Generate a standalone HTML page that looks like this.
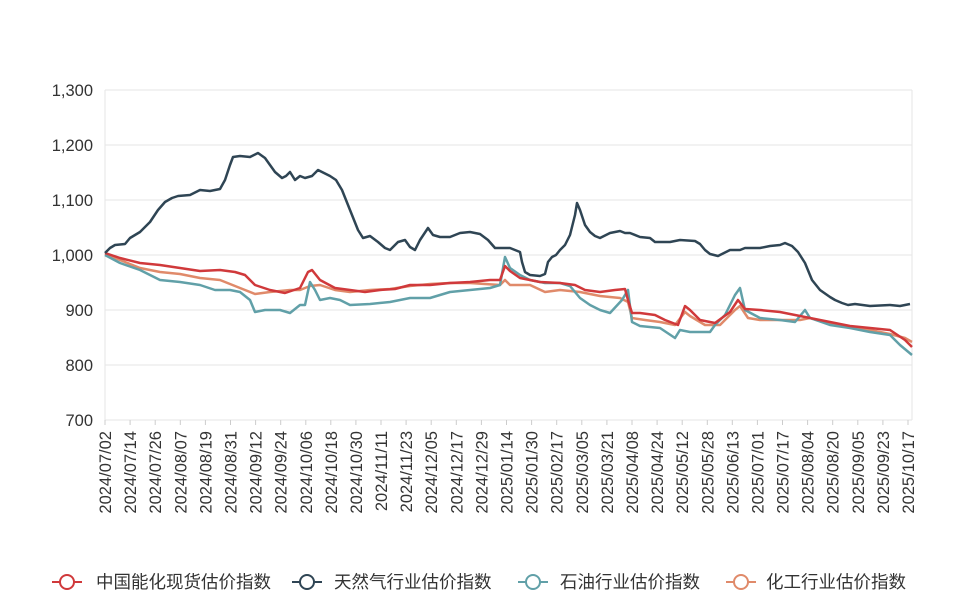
<!DOCTYPE html>
<html><head><meta charset="utf-8"><style>
body{margin:0;background:#fff;}
svg{display:block;font-family:"Liberation Sans","Noto Sans CJK SC",sans-serif;}
</style></head><body>
<svg width="960" height="600" viewBox="0 0 960 600">
<g stroke="#e6e6e6" stroke-width="1">
<line x1="105" y1="90" x2="912" y2="90"/><line x1="105" y1="145" x2="912" y2="145"/>
<line x1="105" y1="200" x2="912" y2="200"/><line x1="105" y1="255" x2="912" y2="255"/>
<line x1="105" y1="310" x2="912" y2="310"/><line x1="105" y1="365" x2="912" y2="365"/>
<line x1="105" y1="420" x2="912" y2="420"/>
<line x1="105" y1="90" x2="105" y2="420"/><line x1="912" y1="90" x2="912" y2="420"/>
</g>
<g font-size="16.5" fill="#333" text-anchor="end">
<text x="93" y="96">1,300</text><text x="93" y="151">1,200</text><text x="93" y="206">1,100</text>
<text x="93" y="261">1,000</text><text x="93" y="316">900</text><text x="93" y="371">800</text><text x="93" y="426">700</text>
</g>
<g stroke="#ccc">
<line x1="105" y1="420" x2="105" y2="425"/><line x1="130.1" y1="420" x2="130.1" y2="425"/><line x1="155.2" y1="420" x2="155.2" y2="425"/><line x1="180.3" y1="420" x2="180.3" y2="425"/><line x1="205.4" y1="420" x2="205.4" y2="425"/><line x1="230.5" y1="420" x2="230.5" y2="425"/><line x1="255.6" y1="420" x2="255.6" y2="425"/><line x1="280.7" y1="420" x2="280.7" y2="425"/><line x1="305.8" y1="420" x2="305.8" y2="425"/><line x1="330.8" y1="420" x2="330.8" y2="425"/><line x1="355.9" y1="420" x2="355.9" y2="425"/><line x1="381" y1="420" x2="381" y2="425"/><line x1="406.1" y1="420" x2="406.1" y2="425"/><line x1="431.2" y1="420" x2="431.2" y2="425"/><line x1="456.3" y1="420" x2="456.3" y2="425"/><line x1="481.4" y1="420" x2="481.4" y2="425"/><line x1="506.5" y1="420" x2="506.5" y2="425"/><line x1="531.6" y1="420" x2="531.6" y2="425"/><line x1="556.7" y1="420" x2="556.7" y2="425"/><line x1="581.8" y1="420" x2="581.8" y2="425"/><line x1="606.9" y1="420" x2="606.9" y2="425"/><line x1="632" y1="420" x2="632" y2="425"/><line x1="657.1" y1="420" x2="657.1" y2="425"/><line x1="682.2" y1="420" x2="682.2" y2="425"/><line x1="707.3" y1="420" x2="707.3" y2="425"/><line x1="732.3" y1="420" x2="732.3" y2="425"/><line x1="757.4" y1="420" x2="757.4" y2="425"/><line x1="782.5" y1="420" x2="782.5" y2="425"/><line x1="807.6" y1="420" x2="807.6" y2="425"/><line x1="832.7" y1="420" x2="832.7" y2="425"/><line x1="857.8" y1="420" x2="857.8" y2="425"/><line x1="882.9" y1="420" x2="882.9" y2="425"/><line x1="908" y1="420" x2="908" y2="425"/>
</g>
<g font-size="16.5" fill="#333" text-anchor="end">
<text transform="translate(111,431) rotate(-90)">2024/07/02</text>
<text transform="translate(136.1,431) rotate(-90)">2024/07/14</text>
<text transform="translate(161.2,431) rotate(-90)">2024/07/26</text>
<text transform="translate(186.3,431) rotate(-90)">2024/08/07</text>
<text transform="translate(211.4,431) rotate(-90)">2024/08/19</text>
<text transform="translate(236.5,431) rotate(-90)">2024/08/31</text>
<text transform="translate(261.6,431) rotate(-90)">2024/09/12</text>
<text transform="translate(286.7,431) rotate(-90)">2024/09/24</text>
<text transform="translate(311.8,431) rotate(-90)">2024/10/06</text>
<text transform="translate(336.8,431) rotate(-90)">2024/10/18</text>
<text transform="translate(361.9,431) rotate(-90)">2024/10/30</text>
<text transform="translate(387,431) rotate(-90)">2024/11/11</text>
<text transform="translate(412.1,431) rotate(-90)">2024/11/23</text>
<text transform="translate(437.2,431) rotate(-90)">2024/12/05</text>
<text transform="translate(462.3,431) rotate(-90)">2024/12/17</text>
<text transform="translate(487.4,431) rotate(-90)">2024/12/29</text>
<text transform="translate(512.5,431) rotate(-90)">2025/01/14</text>
<text transform="translate(537.6,431) rotate(-90)">2025/01/30</text>
<text transform="translate(562.7,431) rotate(-90)">2025/02/17</text>
<text transform="translate(587.8,431) rotate(-90)">2025/03/05</text>
<text transform="translate(612.9,431) rotate(-90)">2025/03/21</text>
<text transform="translate(638,431) rotate(-90)">2025/04/08</text>
<text transform="translate(663.1,431) rotate(-90)">2025/04/24</text>
<text transform="translate(688.2,431) rotate(-90)">2025/05/12</text>
<text transform="translate(713.3,431) rotate(-90)">2025/05/28</text>
<text transform="translate(738.3,431) rotate(-90)">2025/06/13</text>
<text transform="translate(763.4,431) rotate(-90)">2025/07/01</text>
<text transform="translate(788.5,431) rotate(-90)">2025/07/17</text>
<text transform="translate(813.6,431) rotate(-90)">2025/08/04</text>
<text transform="translate(838.7,431) rotate(-90)">2025/08/20</text>
<text transform="translate(863.8,431) rotate(-90)">2025/09/05</text>
<text transform="translate(888.9,431) rotate(-90)">2025/09/23</text>
<text transform="translate(914,431) rotate(-90)">2025/10/17</text>
</g>
<g fill="none" stroke-width="2.5" stroke-linejoin="round">
<polyline stroke="#e08a6a" points="105,254 120,260 140,268 160,272 180,274 200,278 220,280 240,288 255,294 270,292 290,290 300,290 310,286 320,285 335,290 350,292 370,290 390,289 410,286 430,284 450,283 470,283 500,285 505,280 510,285 530,285 545,292 560,290 580,292 600,296 620,298 628,302 632,318 645,320 660,322 675,325 685,312 690,316 705,325 720,325 735,310 740,306 748,318 760,320 780,320 800,320 810,318 830,324 850,327 870,330 890,334 905,338 912,342"/>
<polyline stroke="#61a0a8" points="105,255 120,263 140,270 160,280 180,282 200,285 215,290 230,290 240,292 250,300 255,312 265,310 280,310 290,313 300,305 305,305 310,282 315,290 320,300 330,298 340,300 350,305 370,304 390,302 410,298 430,298 450,292 470,290 490,288 500,285 505,257 510,268 520,275 530,280 545,283 560,283 570,286 580,298 590,305 600,310 610,313 622,300 628,290 632,322 640,326 660,328 675,338 680,330 690,332 710,332 715,325 725,315 735,295 740,288 745,310 760,318 780,320 795,322 805,310 810,318 830,325 850,328 870,332 890,335 900,345 912,355"/>
<polyline stroke="#d0393b" points="105,253 120,258 140,263 160,265 180,268 200,271 220,270 235,272 245,275 255,285 270,290 285,293 300,288 308,272 312,270 320,280 335,288 350,290 365,292 380,290 395,289 410,285 430,285 450,283 470,282 490,280 500,280 505,266 510,271 520,278 540,282 560,283 575,285 585,290 600,292 615,290 625,289 628,300 632,313 640,313 655,315 665,320 678,325 685,306 690,310 700,320 715,323 730,312 738,300 745,309 760,310 780,312 795,315 810,318 830,322 850,326 870,328 890,330 905,340 912,347"/>
<polyline stroke="#2f4554" points="105,253 110,248 115,245 125,244 130,238 140,232 150,222 158,210 165,202 172,198 178,196 190,195 200,190 210,191 220,189 225,180 230,165 233,157 240,156 250,157 258,153 265,158 270,165 275,172 282,178 286,176 290,172 295,180 300,176 305,178 312,176 318,170 322,172 330,176 336,180 342,190 350,210 358,230 363,238 370,236 378,242 385,248 390,250 398,242 405,240 410,247 415,250 420,240 428,228 433,235 440,237 450,237 460,233 470,232 480,234 488,240 495,248 510,248 515,250 520,252 522,262 525,272 530,275 540,276 545,274 548,262 552,257 556,255 560,250 565,245 570,235 575,215 577,203 580,210 585,225 590,232 595,236 600,238 610,233 620,231 625,233 630,233 640,237 650,238 655,242 670,242 680,240 695,241 700,244 705,250 710,254 718,256 722,254 730,250 740,250 745,248 760,248 770,246 780,245 785,243 792,246 798,252 805,263 812,280 820,290 830,297 835,300 842,303 848,305 855,304 870,306 890,305 900,306 910,304"/>
</g>
<g font-size="17.5" fill="#333" stroke-width="2">
<line x1="52" y1="582" x2="82" y2="582" stroke="#d0393b"/><circle cx="67" cy="582" r="7" fill="#fff" stroke="#d0393b"/>
<text x="96" y="588">中国能化现货估价指数</text>
<line x1="292" y1="582" x2="322" y2="582" stroke="#2f4554"/><circle cx="307" cy="582" r="7" fill="#fff" stroke="#2f4554"/>
<text x="334" y="588">天然气行业估价指数</text>
<line x1="518" y1="582" x2="548" y2="582" stroke="#61a0a8"/><circle cx="533" cy="582" r="7" fill="#fff" stroke="#61a0a8"/>
<text x="560" y="588">石油行业估价指数</text>
<line x1="726" y1="582" x2="756" y2="582" stroke="#e08a6a"/><circle cx="741" cy="582" r="7" fill="#fff" stroke="#e08a6a"/>
<text x="766" y="588">化工行业估价指数</text>
</g>
</svg>
</body></html>
